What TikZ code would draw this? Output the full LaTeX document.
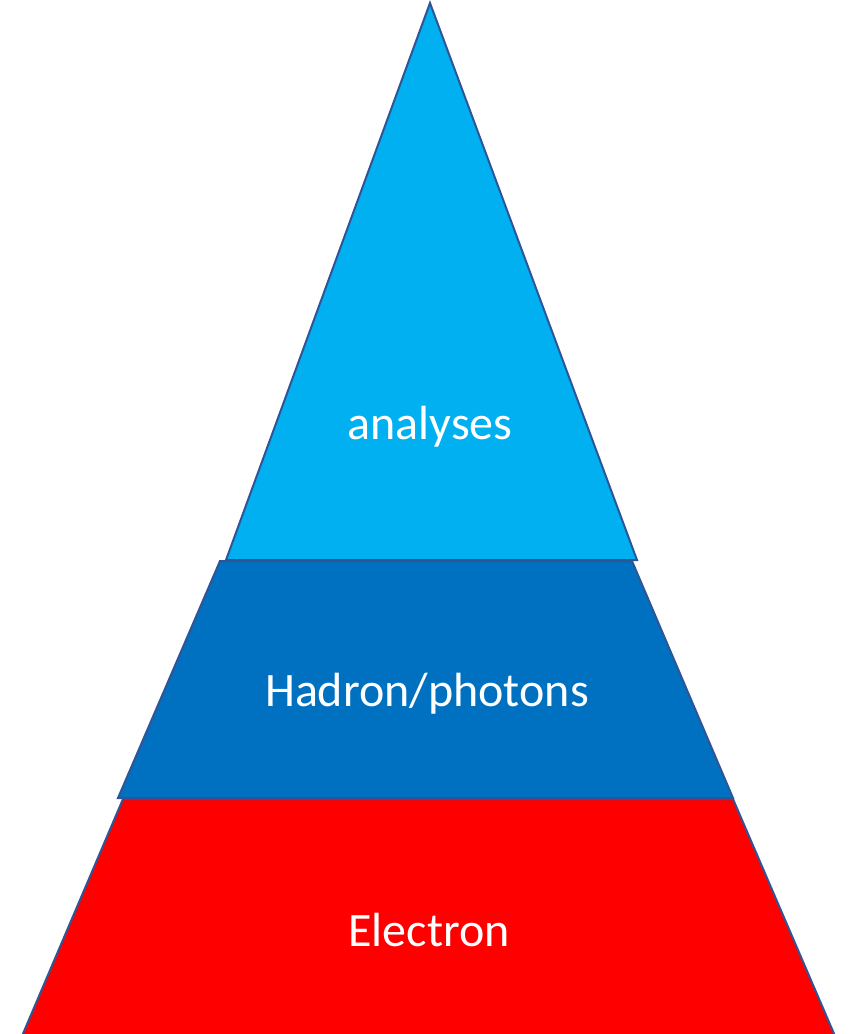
\documentclass[tikz,border=0pt]{standalone}
\usepackage{fontspec}
\setmainfont{Carlito}
\usetikzlibrary{positioning}

\definecolor{toplayer}{HTML}{00B0F0}
\definecolor{midlayer}{HTML}{0070C0}
\definecolor{botlayer}{HTML}{FF0000}
\definecolor{edgeblue}{HTML}{2F5597}

\tikzset{
  layer/.style={draw=edgeblue, line width=2pt, line join=miter},
  label/.style={text=white, font=\fontsize{48}{54}\selectfont}
}

\begin{document}
\begin{tikzpicture}[x=1pt,y=-1pt]
\useasboundingbox (0,0) rectangle (849,1034);
% corners
\coordinate (apex) at (430,3);
\coordinate (t1) at (226,560);
\coordinate (t2) at (637,560);
\coordinate (m1) at (220,561);
\coordinate (m2) at (632,561);
\coordinate (m3) at (733,798);
\coordinate (m4) at (118,798);
\coordinate (b1) at (123,799);
\coordinate (b2) at (733,799);
\coordinate (b3) at (835,1036);
\coordinate (b4) at (22,1036);
% layers
\draw[layer, fill=botlayer] (b1) -- (b2) -- (b3) -- (b4) -- cycle;
\draw[layer, fill=midlayer] (m1) -- (m2) -- (m3) -- (m4) -- cycle;
\draw[layer, fill=toplayer] (apex) -- (t2) -- (t1) -- cycle;
% labels
\node[label] (ana) at (430,427) {analyses};
\node[label] (had) at (427,694) {Hadron/photons};
\node[label] (ele) at (429,930) {Electron};
\end{tikzpicture}
\end{document}
